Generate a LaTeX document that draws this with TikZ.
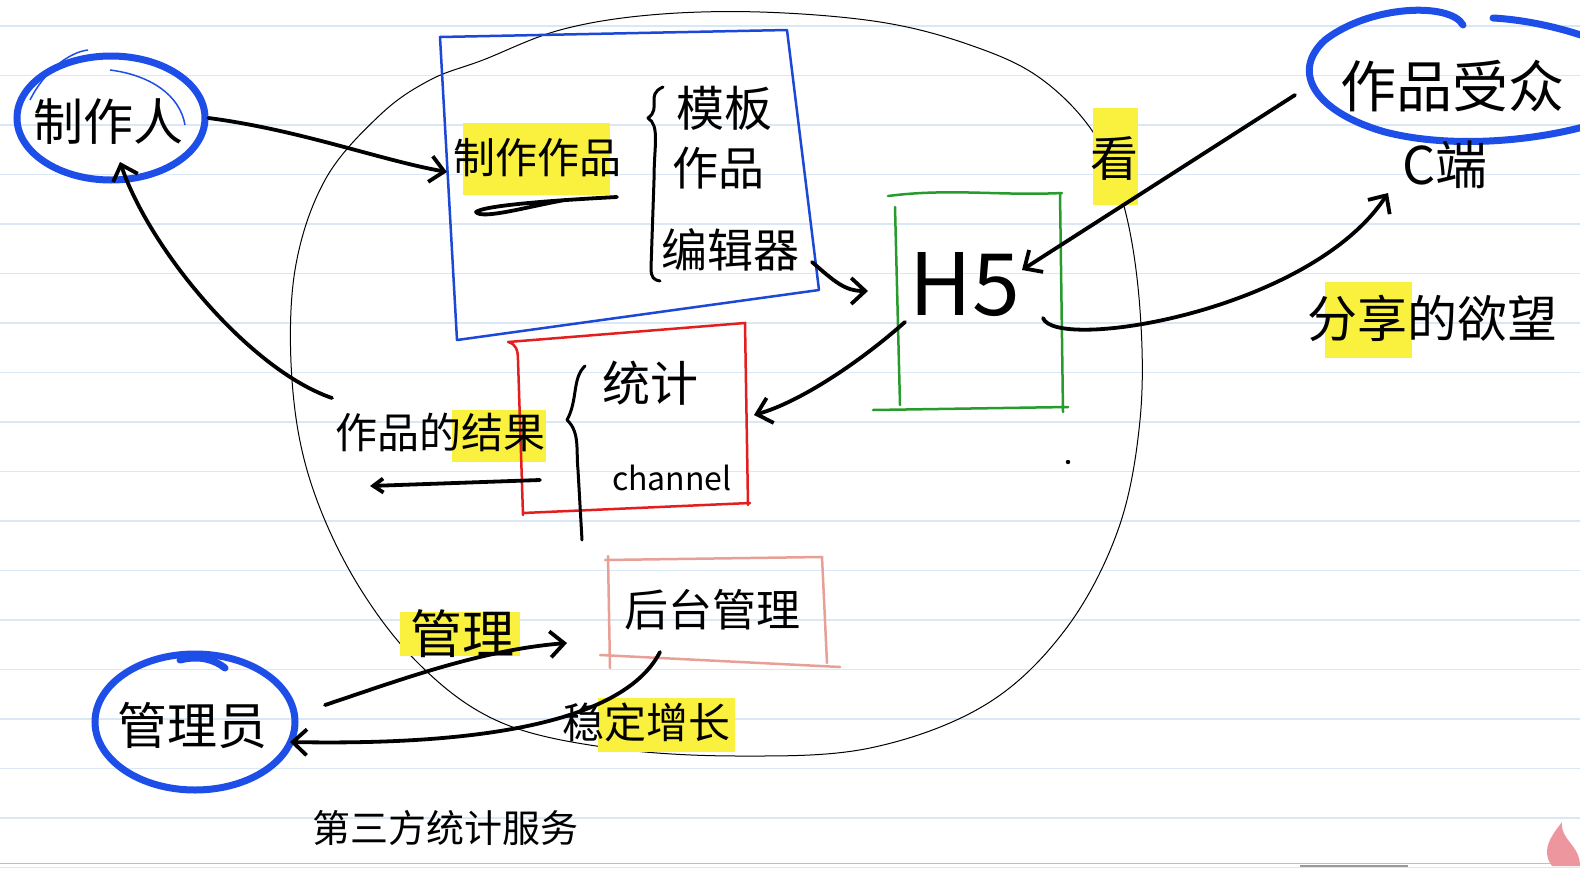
\documentclass[tikz,border=0pt]{standalone}
\usepackage{fontspec}
\newfontfamily\cjk{Noto Sans CJK SC}
\usetikzlibrary{arrows.meta,shapes.geometric}
\definecolor{penblue}{RGB}{30,78,232}
\definecolor{boxblue}{RGB}{28,72,215}
\definecolor{boxgreen}{RGB}{40,155,45}
\definecolor{boxred}{RGB}{228,30,30}
\definecolor{boxpink}{RGB}{232,160,150}
\definecolor{hlyellow}{RGB}{250,240,62}
\definecolor{rulecol}{RGB}{218,232,246}
\definecolor{flame}{RGB}{238,150,158}
\begin{document}
\begin{tikzpicture}[x=1pt,y=-1pt,
  txt/.style={font={\cjk\fontsize{#1}{#1}\selectfont}, inner sep=0pt},
  hl/.style={fill=hlyellow},
  pen/.style={draw=black, line width=3.8pt, line cap=round, line join=round},
  conn/.style={pen, -{Straight Barb[length=14pt,width=26pt]}},
  ring/.style={draw=penblue, line width=7pt, ellipse, inner sep=0pt},
  rulestyle/.style={draw=rulecol, line width=1.2pt},
  thin/.style={draw=black, line width=1pt}]
\useasboundingbox (0,0) rectangle (1580,868);
\fill[white] (0,0) rectangle (1580,868);
\foreach \k in {0,...,17} \draw[rulestyle] (0,26+49.5*\k) -- (1580,26+49.5*\k);
\draw[black!25, line width=1pt] (0,863) -- (1580,863);
\draw[black!40, line width=1.5pt] (1300,866) -- (1408,866);
% flame watermark
\fill[flame] (1552,866) .. controls (1540,850) and (1552,835) .. (1562,822)
  .. controls (1560,840) and (1580,845) .. (1580,866) -- cycle;

% big thin outline
\draw[thin] plot[smooth cycle, tension=0.6] coordinates {
 (483,60) (560,30) (650,15) (760,12) (880,22) (970,45) (1040,78) (1095,135)
 (1125,210) (1140,310) (1140,420) (1118,530) (1065,630) (985,705) (870,748)
 (740,756) (610,748) (500,722) (420,665) (355,580) (310,480) (292,380)
 (295,270) (325,180) (380,115) (430,80)};

% highlights
\fill[hl] (463,123) rectangle (610,195);
\fill[hl] (452,410) rectangle (546,462);
\fill[hl] (1093,108) rectangle (1138,205);
\fill[hl] (1325,282) rectangle (1412,358);
\fill[hl] (400,612) rectangle (520,656);
\fill[hl] (598,698) rectangle (735,752);

% boxes
\draw[draw=boxblue, line width=2.5pt, line join=round] (440,37) -- (787,30) -- (819,290) -- (457,340) -- cycle;
\draw[draw=boxgreen, line width=2.5pt, line cap=round]
  (888,196) .. controls (950,188) and (1000,196) .. (1062,193)
  (1060,193) -- (1063,412)
  (873,410) -- (1068,407)
  (895,207) -- (900,405);
\draw[draw=boxred, line width=2.5pt, line cap=round]
  (508,342) -- (745,323) -- (748,505)
  (508,342) .. controls (516,344) and (518,350) .. (518,360) -- (523,515)
  (523,513) -- (750,503);
\draw[draw=boxpink, line width=2.5pt, line cap=round]
  (605,560) -- (822,557) -- (827,663)
  (608,556) -- (610,668)
  (600,655) -- (840,667);

% rings
\node[ring, minimum width=188, minimum height=124] (makerE) at (111,118) {};
\draw[penblue, line width=1.5pt] (30,100) .. controls (45,70) and (70,52) .. (88,50);
\draw[penblue, line width=1.5pt] (110,70) .. controls (150,75) and (180,95) .. (185,125);
\node[ring, minimum width=200, minimum height=136] (adminE) at (195,722) {};
\draw[penblue, line width=7pt, line cap=round] (180,660) .. controls (200,655) and (215,660) .. (225,668);
\draw[penblue, line width=7pt, line cap=round]
  (1463,25) .. controls (1450,2) and (1370,5) .. (1325,40)
  .. controls (1290,72) and (1315,112) .. (1385,132)
  .. controls (1455,150) and (1545,140) .. (1600,122);
\draw[penblue, line width=7pt, line cap=round]
  (1493,18) .. controls (1530,20) and (1570,30) .. (1600,42);

% texts
\node[txt=50] (maker) at (108,122) {制作人};
\node[txt=42] (make) at (537,158) {制作作品};
\node[txt=48] (tpl) at (724,108) {模板};
\node[txt=46] (work) at (718,168) {作品};
\node[txt=46] (editor) at (730,250) {编辑器};
\node[txt=86] (h5) at (965,285) {H5};
\node[txt=48] (stat) at (650,383) {统计};
\node[txt=32] (chan) at (672,478) {channel};
\node[txt=42] (result) at (440,432) {作品的结果};
\node[txt=44] (backend) at (712,610) {后台管理};
\node[txt=52] (manage) at (462,634) {管理};
\node[txt=50] (admin) at (192,725) {管理员};
\node[txt=42] (grow) at (646,722) {稳定增长};
\node[txt=38] (third) at (445,828) {第三方统计服务};
\node[txt=56] (aud) at (1452,86) {作品受众};
\node[txt=52] (cend) at (1445,165) {C端};
\node[txt=48] (look) at (1114,158) {看};
\node[txt=50] (share) at (1432,318) {分享的欲望};
\fill (1068,462) circle (2.2);

% underline and braces
\draw[pen] (617,197) .. controls (560,200) and (485,205) .. (476,212)
  .. controls (482,220) and (530,206) .. (565,200);
\draw[pen, line width=3pt] (663,87) .. controls (645,95) and (662,108) .. (648,118)
  .. controls (660,126) and (654,145) .. (654,180) -- (651,268)
  .. controls (651,278) and (654,280) .. (660,281);
\draw[pen, line width=3pt] (585,366) .. controls (572,378) and (578,400) .. (567,420)
  .. controls (580,432) and (576,450) .. (578,470) -- (582,540);

% connectors
\coordinate (a1e) at (447,172);
\coordinate (a2s) at (332,398);
\coordinate (a2e) at (120,162);
\coordinate (a3s) at (812,262);
\coordinate (a3e) at (868,291);
\coordinate (a4s) at (905,322);
\coordinate (a4e) at (754,415);
\coordinate (a5s) at (1295,95);
\coordinate (a5e) at (1022,270);
\coordinate (a6s) at (1043,318);
\coordinate (a6e) at (1388,193);
\coordinate (a7s) at (325,705);
\coordinate (a7e) at (567,643);
\coordinate (a8s) at (660,652);
\coordinate (a8e) at (290,742);
\coordinate (a9s) at (540,480);
\coordinate (a9e) at (370,486);
\draw[conn] (makerE.east) .. controls (300,130) and (380,160) .. (a1e);
\draw[conn] (a2s) .. controls (250,370) and (150,250) .. (a2e);
\draw[conn] (a3s) .. controls (835,282) and (845,291) .. (a3e);
\draw[conn] (a4s) .. controls (860,362) and (800,402) .. (a4e);
\draw[conn] (a5s) -- (a5e);
\draw[conn] (a6s) .. controls (1055,352) and (1310,312) .. (a6e);
\draw[conn] (a7s) .. controls (400,680) and (480,650) .. (a7e);
\draw[conn] (a8s) .. controls (620,730) and (450,745) .. (a8e);
\draw[conn, -{Straight Barb[length=10pt,width=14pt]}] (a9s) -- (a9e);
\end{tikzpicture}
\end{document}
